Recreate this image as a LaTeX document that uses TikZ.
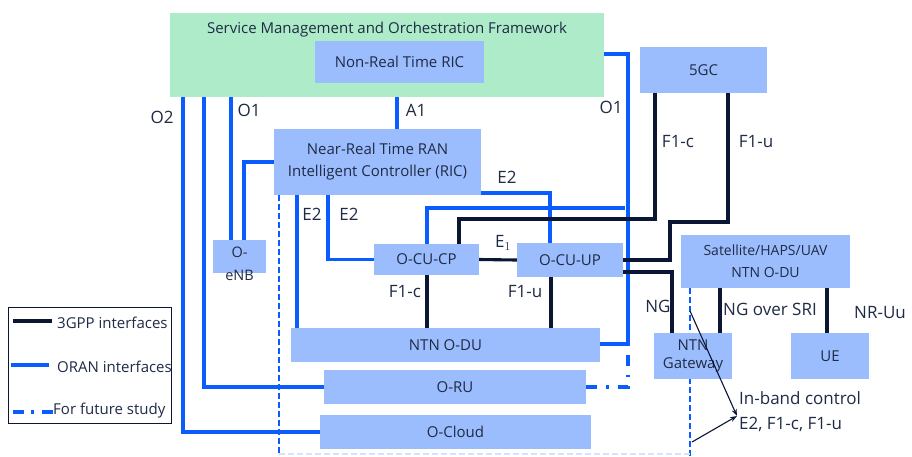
\documentclass[tikz,border=0pt]{standalone}
\usepackage{fontspec}
\setmainfont{Open Sans}
\usetikzlibrary{arrows.meta}
\definecolor{oranblue}{HTML}{0A5CFF}
\definecolor{gppnavy}{HTML}{0B1634}
\definecolor{boxfill}{HTML}{9CBDFD}
\definecolor{smofill}{HTML}{AEEBC8}
\definecolor{textcol}{HTML}{1F2B45}
\definecolor{faintblue}{HTML}{D6E2FF}
\pgfdeclarelayer{background}
\pgfsetlayers{background,main}

\begin{document}
\begin{tikzpicture}[x=1pt,y=-1pt,
  every node/.style={font=\fontsize{15}{22}\selectfont, text=textcol},
  box/.style={fill=boxfill, draw=none, inner sep=0pt, align=center},
  lbl/.style={inner sep=0pt, font=\fontsize{17}{20}\selectfont},
  oran/.style={draw=oranblue, line width=3.1pt},
  gpp/.style={draw=gppnavy, line width=3.1pt},
  futurestudy/.style={draw=oranblue, line width=3.1pt, dash pattern=on 11pt off 9pt on 2.5pt off 9pt},
  boundary/.style={draw=oranblue, line width=2.8pt, dash pattern=on 6pt off 3pt},
  faint/.style={draw=faintblue, line width=1.2pt, dash pattern=on 6pt off 3pt},
  callout/.style={draw=gppnavy, line width=1.1pt, -{Stealth[length=7pt,width=5pt]}},
  legtext/.style={inner sep=0pt, anchor=west, font=\fontsize{15}{18}\selectfont},
]
\useasboundingbox (0,0) rectangle (912,456);

% ---- management layer ----
\node[box, fill=smofill, minimum width=434pt, minimum height=84pt] (smo) at (387,55) {};
\node[inner sep=0pt] (smotitle) at (387,30) {Service Management and Orchestration Framework};
\node[box, minimum width=169pt, minimum height=42pt] (nrtric) at (399.5,62) {Non-Real Time RIC};
\node[box, minimum width=207pt, minimum height=66pt] (nearrtric) at (377.5,162)
  {Near-Real Time RAN\\Intelligent Controller (RIC)};

% ---- RAN functions ----
\node[box, minimum width=53pt, minimum height=33pt] (oenb) at (239.5,256.5) {};
\node[inner sep=0pt, align=center, font=\fontsize{14.5}{23}\selectfont] (oenbtext) at (239.5,264) {O-\\eNB};
\node[box, minimum width=105pt, minimum height=31pt] (ocucp) at (426.5,259.5) {O-CU-CP};
\node[box, minimum width=106pt, minimum height=34pt] (ocuup) at (570,260) {O-CU-UP};
\node[box, minimum width=309pt, minimum height=34pt] (ntnodu) at (445.5,345) {NTN O-DU};
\node[box, minimum width=262pt, minimum height=34pt] (oru) at (455,387) {O-RU};
\node[box, minimum width=271pt, minimum height=34pt] (ocloud) at (455.5,432) {O-Cloud};

% ---- core, satellite segment and UE ----
\node[box, minimum width=127pt, minimum height=46pt] (fivegc) at (703.5,70) {5GC};
\node[box, minimum width=169pt, minimum height=53pt, font=\fontsize{14}{22}\selectfont] (sat) at (765.5,261.5)
  {Satellite/HAPS/UAV\\NTN O-DU};
\node[box, minimum width=78pt, minimum height=46pt, font=\fontsize{15}{18}\selectfont] (ntngw) at (693,356)
  {NTN\\Gateway};
\node[box, minimum width=78pt, minimum height=46pt] (ue) at (830,356) {UE};

% ---- free ends ----
\coordinate (o1corner) at (628,344);
\coordinate (o1tap) at (625,208);
\coordinate (leftbound) at (279,456);
\coordinate (rightbound) at (690,456);
\coordinate (tapA) at (690,311);
\coordinate (tapB) at (692,442);
\coordinate (inbandtip) at (737,416);

\begin{pgfonlayer}{background}
  \fill[white] (0,0) rectangle (912,456);
  % O-RAN interfaces
  \draw[oran] (nrtric.south -| 397,0) -- (nearrtric.north -| 397,0);
  \draw[oran] (smo.south -| 183,0) |- (ocloud.west);
  \draw[oran] (smo.south -| 204,0) |- (oru.west);
  \draw[oran] (smo.south -| 231,0) -- (oenb.north -| 231,0);
  \draw[oran] (oenb.north -| 244,0) |- (nearrtric.west);
  \draw[oran] (nearrtric.south -| 297,0) -- (ntnodu.north -| 297,0);
  \draw[oran] (nearrtric.south -| 328,0) |- (ocucp.west);
  \draw[oran] (nearrtric.east |- 0,193) -| (ocuup.north -| 550,0);
  \draw[oran] (ocucp.north -| 427,0) |- (o1tap);
  \draw[oran] (smo.east |- 0,54) -| (o1corner) -- (ntnodu.east |- o1corner);
  \draw[futurestudy] (oru.east) -| (o1corner);
  % NTN boundaries
  \draw[boundary] (nearrtric.south -| 279,0) -- (leftbound);
  \draw[boundary] (sat.south -| 690,0) -- (rightbound);
  \draw[faint] (leftbound |- 0,454) -- (rightbound |- 0,454);
  % 3GPP interfaces
  \draw[gpp] (ocucp.east) -- (ocuup.west);
  \draw[gpp] (ocucp.south -| 427,0) -- (ntnodu.north -| 427,0);
  \draw[gpp] (ocuup.south -| 551,0) -- (ntnodu.north -| 551,0);
  \draw[gpp] (fivegc.south -| 655,0) |- (459,219) -- (ocucp.north -| 459,0);
  \draw[gpp] (fivegc.south -| 728,0) |- (670,222) |- (ocuup.east);
  \draw[gpp] (ocuup.east |- 0,272) -| (ntngw.north -| 672,0);
  \draw[gpp] (sat.south -| 720,0) -- (ntngw.north -| 720,0);
  \draw[gpp] (sat.south -| 827,0) -- (ue.north -| 827,0);
\end{pgfonlayer}

% ---- interface labels ----
\node[lbl] (lo2) at (162,117) {O2};
\node[lbl] (lo1a) at (249,110) {O1};
\node[lbl] (la1) at (416,110) {A1};
\node[lbl] (lo1b) at (611,107) {O1};
\node[lbl] (le2a) at (312,214) {E2};
\node[lbl] (le2b) at (349,214) {E2};
\node[lbl] (le2c) at (507,177) {E2};
\node[lbl] (le1) at (503,243) {E$_1$};
\node[lbl] (lf1c) at (405,292) {F1-c};
\node[lbl] (lf1u) at (525,292) {F1-u};
\node[lbl] (lf1cup) at (678,142) {F1-c};
\node[lbl] (lf1uup) at (756,142) {F1-u};
\node[lbl] (lng) at (658,306) {NG};
\node[lbl] (lngsri) at (770,309) {NG over SRI};
\node[lbl] (lnruu) at (880,313) {NR-Uu};

% ---- in-band control note ----
\node[inner sep=0pt, anchor=west, align=left, font=\fontsize{17}{25}\selectfont] (inband) at (739,412)
  {In-band control\\E2, F1-c, F1-u};
\draw[callout] (tapA) -- (inbandtip);
\draw[callout] (tapB) -- (inbandtip);

% ---- legend ----
\node[draw=gppnavy, line width=0.8pt, inner sep=0pt, minimum width=163pt, minimum height=116pt] (legend) at (89.5,365) {};
\draw[gpp] (13,321) -- (52,321);
\draw[oran] (11,365) -- (49,365);
\draw[futurestudy, dash pattern=on 11pt off 7pt on 3pt off 8pt] (13,412) -- (56,412);
\node[legtext] (leg3gpp) at (57,323) {3GPP interfaces};
\node[legtext] (legoran) at (57,367) {ORAN interfaces};
\node[legtext] (legfs) at (53,411) {For future study};
\end{tikzpicture}
\end{document}
